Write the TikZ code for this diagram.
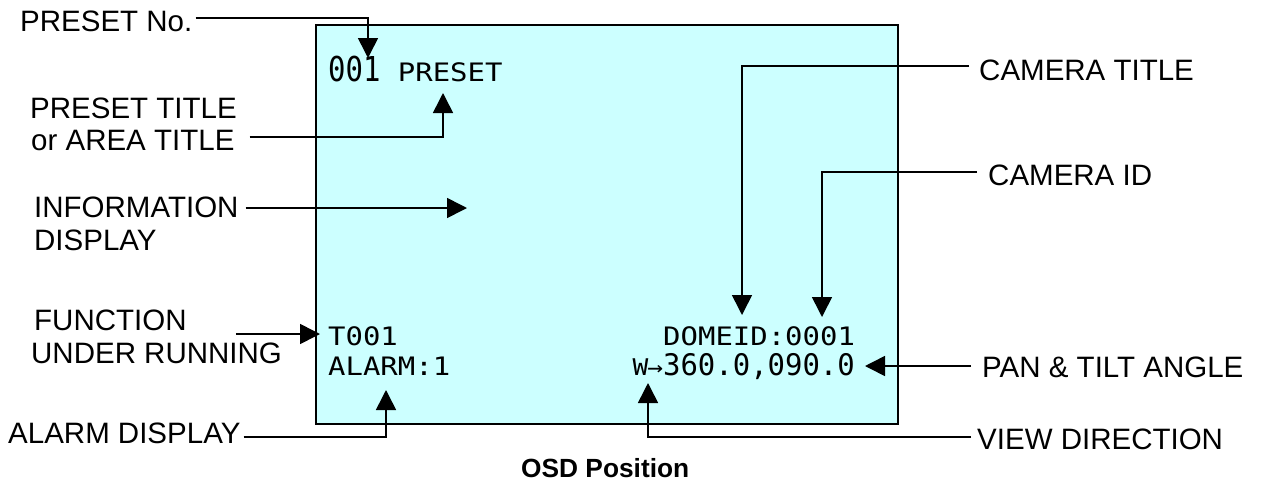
\documentclass[tikz,border=0pt]{standalone}
\usepackage{fontspec}
\usepackage{graphicx}
\setmainfont{Liberation Sans}
\newfontfamily\osdfont[FakeStretch=1.14]{DejaVu Sans Mono}
\usetikzlibrary{arrows.meta}
\definecolor{screen}{RGB}{204,255,255}
\tikzset{
  lbl/.style={inner sep=0pt, anchor=base west, font=\fontsize{29.5pt}{33pt}\selectfont},
  mono/.style={inner sep=0pt, anchor=base west, font=\osdfont\fontsize{25.4pt}{30pt}\selectfont},
  arr/.style={line width=1.6pt, -{Triangle[length=20pt,width=20pt]}},
  screenbox/.style={draw=black, line width=2.4pt, fill=screen}
}
\begin{document}
\begin{tikzpicture}[x=1pt,y=-1pt]
\useasboundingbox (0,0) rectangle (1261,483);
% screen
\node[screenbox, inner sep=0pt, minimum width=582pt, minimum height=399pt, anchor=north west] (scr) at (315,24) {};
% on-screen texts
\node[mono] (pre) at (328,81) {\scalebox{1}[1.35]{001} PRESET};
\node[mono] (t001) at (328,345) {T001};
\node[mono] (alm) at (328,375) {ALARM:1};
\node[mono] (dome) at (663,345) {DOMEID:0001};
\node[mono] (angle) at (628,375) {\makebox[34.9pt][r]{\fontsize{23pt}{23pt}\selectfont W\kern-1pt→}\scalebox{1}[1.17]{360.0,090.0}};
% labels
\node[lbl] (pno) at (20,31) {PRESET No.};
\node[lbl] (pt1) at (30,118) {PRESET TITLE};
\node[lbl] (pt2) at (31,150) {or AREA TITLE};
\node[lbl] (inf1) at (34,217) {INFORMATION};
\node[lbl] (inf2) at (34,250) {DISPLAY};
\node[lbl] (fn1) at (34,330) {FUNCTION};
\node[lbl] (fn2) at (31,363) {UNDER RUNNING};
\node[lbl] (ad) at (8,443) {ALARM DISPLAY};
\node[lbl] (ct) at (979,80) {CAMERA TITLE};
\node[lbl] (cid) at (988,185) {CAMERA ID};
\node[lbl] (pan) at (982,377) {PAN \& TILT ANGLE};
\node[lbl] (vd) at (977,449) {VIEW DIRECTION};
\node[inner sep=0pt, anchor=base west, font=\bfseries\fontsize{26.3pt}{30pt}\selectfont] (osd) at (521,477) {OSD Position};
% arrow tips and bends
\coordinate (tPno) at (368,58);  \coordinate (bPno) at (368,18);
\coordinate (tPt) at (443,93);   \coordinate (bPt) at (443,137);
\coordinate (tInf) at (467,208);
\coordinate (tFn) at (320,334);
\coordinate (tAd) at (386,390);  \coordinate (bAd) at (386,437);
\coordinate (tCt) at (742,315);  \coordinate (bCt) at (742,66);
\coordinate (tCid) at (822,317); \coordinate (bCid) at (822,172);
\coordinate (tPan) at (865,366);
\coordinate (tVd) at (648,383);  \coordinate (bVd) at (648,437);
% connectors
\draw[arr] ([xshift=3pt]bPno -| pno.east) -- (bPno) -- (tPno);
\draw[arr] ([xshift=15pt]bPt -| pt2.east) -- (bPt) -- (tPt);
\draw[arr] ([xshift=7pt]tInf -| inf1.east) -- (tInf);
\draw[arr] ([xshift=49pt]tFn -| fn1.east) -- (tFn);
\draw[arr] ([xshift=3pt]bAd -| ad.east) -- (bAd) -- (tAd);
\draw[arr] ([xshift=-10pt]bCt -| ct.west) -- (bCt) -- (tCt);
\draw[arr] ([xshift=-11pt]bCid -| cid.west) -- (bCid) -- (tCid);
\draw[arr] ([xshift=-11pt]tPan -| pan.west) -- (tPan);
\draw[arr] ([xshift=-6pt]bVd -| vd.west) -- (bVd) -- (tVd);
\end{tikzpicture}
\end{document}
